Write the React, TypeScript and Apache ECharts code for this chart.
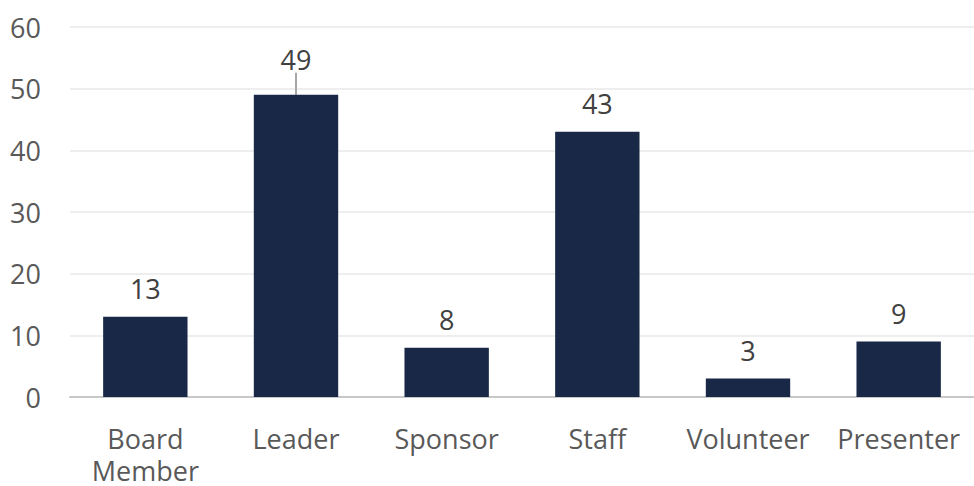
import React, { useEffect, useRef } from "react";
import * as echarts from "echarts";

const categories = ["Board\nMember", "Leader", "Sponsor", "Staff", "Volunteer", "Presenter"];
const values = [13, 49, 8, 43, 3, 9];
const movedLabelIndex = 1;
const yTicks = { min: 0, max: 60, interval: 10 };

const FONT = "'Open Sans', sans-serif";

export default function App() {
  const ref = useRef<HTMLDivElement>(null);
  useEffect(() => {
    document.body.style.margin = "0";
    const chart = echarts.init(ref.current!, null, { renderer: "svg", width: 974, height: 486 });
    chart.setOption({
      animation: false,
      backgroundColor: "#ffffff",
      grid: { left: 70, width: 915, top: 27, height: 372, containLabel: false },
      xAxis: {
        type: "category",
        data: categories,
        axisTick: { show: false },
        axisLine: { lineStyle: { color: "#C8C8C8", width: 2 } },
        axisLabel: {
          color: "#595959",
          fontFamily: FONT,
          fontSize: 27,
          lineHeight: 32,
          margin: 25,
          interval: 0,
        },
      },
      yAxis: {
        type: "value",
        min: yTicks.min,
        max: yTicks.max,
        interval: yTicks.interval,
        axisLine: { show: false },
        axisTick: { show: false },
        splitLine: { lineStyle: { color: "#EEEEEE", width: 2 } },
        axisLabel: {
          color: "#595959",
          fontFamily: FONT,
          fontSize: 27,
          margin: 29,
        },
      },
      series: [
        {
          type: "bar",
          data: values.map((v, i) =>
            i === movedLabelIndex
              ? { value: v, labelLine: { show: true, lineStyle: { color: "#A6A6A6", width: 2 } } }
              : v
          ),
          barWidth: "56%",
          itemStyle: { color: "#192847" },
          label: {
            show: true,
            position: "top",
            distance: 15,
            color: "#404040",
            fontFamily: FONT,
            fontSize: 27,
          },
          labelLine: { show: false },
          labelLayout: (params: any) => (params.dataIndex === movedLabelIndex ? { dy: -7 } : {}),
        },
      ],
    });
    return () => chart.dispose();
  }, []);
  return (
    <div
      ref={ref}
      style={{ position: "fixed", left: 0, top: 0, width: 974, height: 486 }}
    />
  );
}
